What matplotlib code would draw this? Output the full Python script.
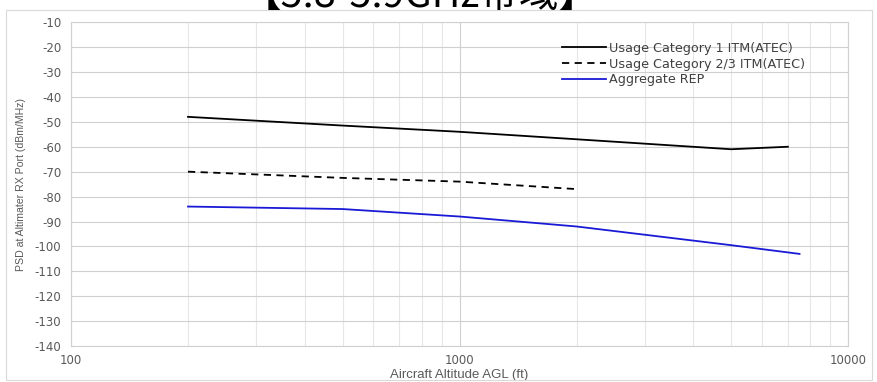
import numpy as np
import matplotlib.pyplot as plt
from matplotlib.patches import Rectangle
from matplotlib.ticker import FixedLocator, NullFormatter

plt.rcParams['font.family'] = ['DejaVu Sans']
plt.rcParams['axes.unicode_minus'] = False

# altitude (ft) and PSD (dBm/MHz) for each curve
alt_cat1 = [200, 500, 1000, 2000, 5000, 7000]
psd_cat1 = [-48, -51.5, -54, -57, -61, -60]

alt_cat23 = [200, 500, 1000, 2000]
psd_cat23 = [-70, -72.5, -74, -77]

alt_rep = [200, 500, 1000, 2000, 5000, 7500]
psd_rep = [-84, -85, -88, -92, -99.5, -103]

y_ticks = list(range(-10, -141, -10))
x_ticks = [100, 1000, 10000]

fig = plt.figure(figsize=(8.77, 3.82), dpi=100)
ax = fig.add_axes([0.081, 0.094, 0.886, 0.848])

ax.plot(alt_cat1, psd_cat1, color='black', lw=1.3, label='Usage Category 1 ITM(ATEC)')
ax.plot(alt_cat23, psd_cat23, color='black', lw=1.3, ls=(0, (4, 3)),
        label='Usage Category 2/3 ITM(ATEC)')
ax.plot(alt_rep, psd_rep, color='#1a1ad6', lw=1.3, label='Aggregate REP')

ax.set_xscale('log')
ax.set_xlim(100, 10000)
ax.set_ylim(-140, -10)
ax.set_yticks(y_ticks)
ax.set_xticks(x_ticks)
ax.set_xticklabels([str(v) for v in x_ticks])
minor = [m * d for d in (100, 1000) for m in range(2, 10)]
ax.xaxis.set_minor_locator(FixedLocator(minor))
ax.xaxis.set_minor_formatter(NullFormatter())

ax.grid(True, which='major', color='#d0d0d0', lw=0.8)
ax.grid(True, which='minor', axis='x', color='#e6e6e6', lw=0.8)
ax.set_axisbelow(True)
for s in ax.spines.values():
    s.set_color('#d0d0d0')
    s.set_linewidth(0.8)
ax.tick_params(which='both', length=0, colors='#595959', labelsize=8.5)
ax.tick_params(axis='y', pad=7)
ax.tick_params(axis='x', pad=6)

ax.set_xlabel('Aircraft Altitude AGL (ft)', color='#595959', fontsize=9.5, labelpad=1,
              family=['Liberation Sans'])
ax.set_ylabel('PSD at Altimater RX Port (dBm/MHz)', color='#595959', fontsize=7.6,
              labelpad=6, family=['Liberation Sans'])

leg = ax.legend(loc='upper right', bbox_to_anchor=(0.96, 0.975), frameon=False,
                fontsize=9.2, handlelength=3.5, labelspacing=0.22, handletextpad=0.25)
for t in leg.get_texts():
    t.set_color('#404040')

# outer chart border
fig.patches.append(Rectangle((6 / 877, 2 / 382), 866 / 877, 370 / 382,
                             transform=fig.transFigure, fill=False,
                             edgecolor='#d9d9d9', lw=0.8))

fig.text(0.479, 0.982, '【5.8-5.9GHz帯域】', ha='center', va='baseline', fontsize=28.5,
         family=['Noto Sans CJK JP', 'DejaVu Sans'], color='black')

fig.savefig('out.png', dpi=100)
